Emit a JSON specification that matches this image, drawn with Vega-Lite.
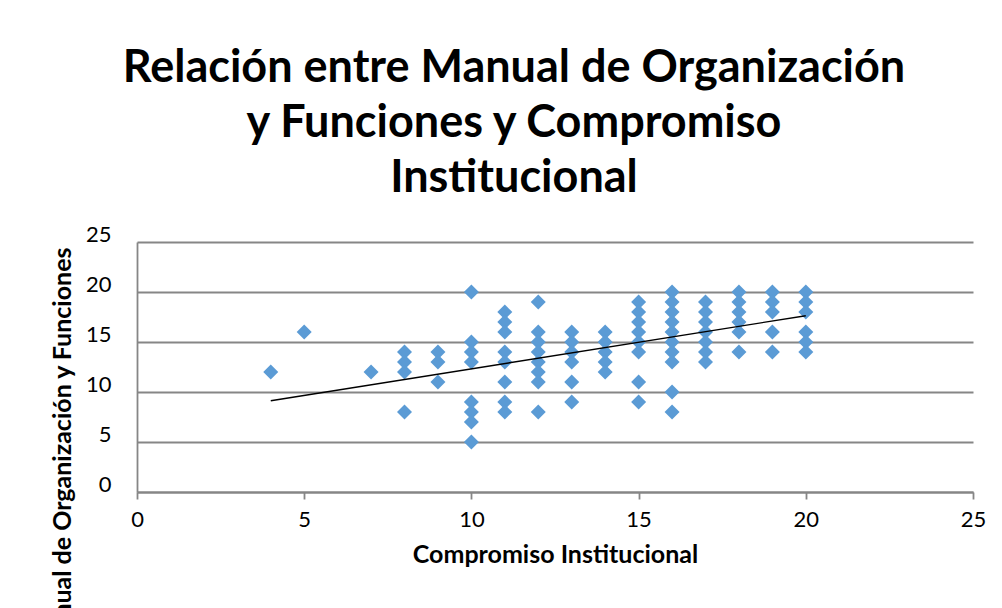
{
  "$schema": "https://vega.github.io/schema/vega-lite/v6.json",
  "autosize": {"type": "none"},
  "width": 836,
  "height": 250,
  "padding": {"left": 137, "top": 242, "right": 29, "bottom": 116},
  "background": "white",
  "config": {
    "view": {"stroke": null},
    "font": "Lato",
    "axis": {
      "labelFont": "Lato",
      "labelFontSize": 22,
      "labelColor": "#000000",
      "titleFont": "Lato",
      "titleFontSize": 25,
      "titleFontWeight": "bold",
      "titleColor": "#000000",
      "domainColor": "#868686",
      "domainWidth": 1.8,
      "gridColor": "#868686",
      "gridWidth": 1.8,
      "tickColor": "#868686",
      "tickWidth": 1.8
    }
  },
  "title": {
    "text": ["Relación entre Manual de Organización", "y Funciones y Compromiso", "Institucional"],
    "font": "Lato",
    "fontSize": 45,
    "fontWeight": "bold",
    "color": "#000000",
    "lineHeight": 55,
    "anchor": "middle",
    "dx": -41,
    "offset": 22
  },
  "datasets": {
    "points": [
      {"ci": 4, "mof": 12}, {"ci": 5, "mof": 16}, {"ci": 7, "mof": 12},
      {"ci": 8, "mof": 14}, {"ci": 8, "mof": 13}, {"ci": 8, "mof": 12}, {"ci": 8, "mof": 8},
      {"ci": 9, "mof": 14}, {"ci": 9, "mof": 13}, {"ci": 9, "mof": 11},
      {"ci": 10, "mof": 20}, {"ci": 10, "mof": 15}, {"ci": 10, "mof": 14}, {"ci": 10, "mof": 13}, {"ci": 10, "mof": 9}, {"ci": 10, "mof": 8}, {"ci": 10, "mof": 7}, {"ci": 10, "mof": 5},
      {"ci": 11, "mof": 18}, {"ci": 11, "mof": 17}, {"ci": 11, "mof": 16}, {"ci": 11, "mof": 14}, {"ci": 11, "mof": 13}, {"ci": 11, "mof": 11}, {"ci": 11, "mof": 9}, {"ci": 11, "mof": 8},
      {"ci": 12, "mof": 19}, {"ci": 12, "mof": 16}, {"ci": 12, "mof": 15}, {"ci": 12, "mof": 14}, {"ci": 12, "mof": 13}, {"ci": 12, "mof": 12}, {"ci": 12, "mof": 11}, {"ci": 12, "mof": 8},
      {"ci": 13, "mof": 16}, {"ci": 13, "mof": 15}, {"ci": 13, "mof": 14}, {"ci": 13, "mof": 13}, {"ci": 13, "mof": 11}, {"ci": 13, "mof": 9},
      {"ci": 14, "mof": 16}, {"ci": 14, "mof": 15}, {"ci": 14, "mof": 14}, {"ci": 14, "mof": 13}, {"ci": 14, "mof": 12},
      {"ci": 15, "mof": 19}, {"ci": 15, "mof": 18}, {"ci": 15, "mof": 17}, {"ci": 15, "mof": 16}, {"ci": 15, "mof": 15}, {"ci": 15, "mof": 14}, {"ci": 15, "mof": 11}, {"ci": 15, "mof": 9},
      {"ci": 16, "mof": 20}, {"ci": 16, "mof": 19}, {"ci": 16, "mof": 18}, {"ci": 16, "mof": 17}, {"ci": 16, "mof": 16}, {"ci": 16, "mof": 15}, {"ci": 16, "mof": 14}, {"ci": 16, "mof": 13}, {"ci": 16, "mof": 10}, {"ci": 16, "mof": 8},
      {"ci": 17, "mof": 19}, {"ci": 17, "mof": 18}, {"ci": 17, "mof": 17}, {"ci": 17, "mof": 16}, {"ci": 17, "mof": 15}, {"ci": 17, "mof": 14}, {"ci": 17, "mof": 13},
      {"ci": 18, "mof": 20}, {"ci": 18, "mof": 19}, {"ci": 18, "mof": 18}, {"ci": 18, "mof": 17}, {"ci": 18, "mof": 16}, {"ci": 18, "mof": 14},
      {"ci": 19, "mof": 20}, {"ci": 19, "mof": 19}, {"ci": 19, "mof": 18}, {"ci": 19, "mof": 16}, {"ci": 19, "mof": 14},
      {"ci": 20, "mof": 20}, {"ci": 20, "mof": 19}, {"ci": 20, "mof": 18}, {"ci": 20, "mof": 16}, {"ci": 20, "mof": 15}, {"ci": 20, "mof": 14}
    ],
    "trend": [
      {"ci": 4, "mof": 9.13},
      {"ci": 20, "mof": 17.63}
    ]
  },
  "encoding": {
    "x": {
      "field": "ci",
      "type": "quantitative",
      "scale": {"domain": [0, 25], "nice": false, "zero": true},
      "axis": {
        "title": "Compromiso Institucional",
        "values": [0, 5, 10, 15, 20, 25],
        "grid": false,
        "ticks": true,
        "tickSize": 7,
        "labelPadding": 10,
        "titlePadding": 12,
        "labelFlush": false
      }
    },
    "y": {
      "field": "mof",
      "type": "quantitative",
      "scale": {"domain": [0, 25], "nice": false, "zero": true},
      "axis": {
        "title": "Manual de Organización y Funciones",
        "values": [0, 5, 10, 15, 20, 25],
        "grid": true,
        "ticks": false,
        "labelPadding": 26,
        "labelOffset": -8,
        "labelFlush": false,
        "titleAnchor": "end",
        "titleAngle": -90,
        "titleAlign": "right",
        "titleBaseline": "middle",
        "titleX": -75,
        "titleY": 5
      }
    }
  },
  "layer": [
    {
      "data": {"name": "points"},
      "mark": {"type": "point", "shape": "diamond", "filled": true, "size": 225, "color": "#5B9BD5", "opacity": 1, "strokeWidth": 0}
    },
    {
      "data": {"name": "trend"},
      "mark": {"type": "line", "color": "#000000", "strokeWidth": 1.4}
    }
  ]
}
